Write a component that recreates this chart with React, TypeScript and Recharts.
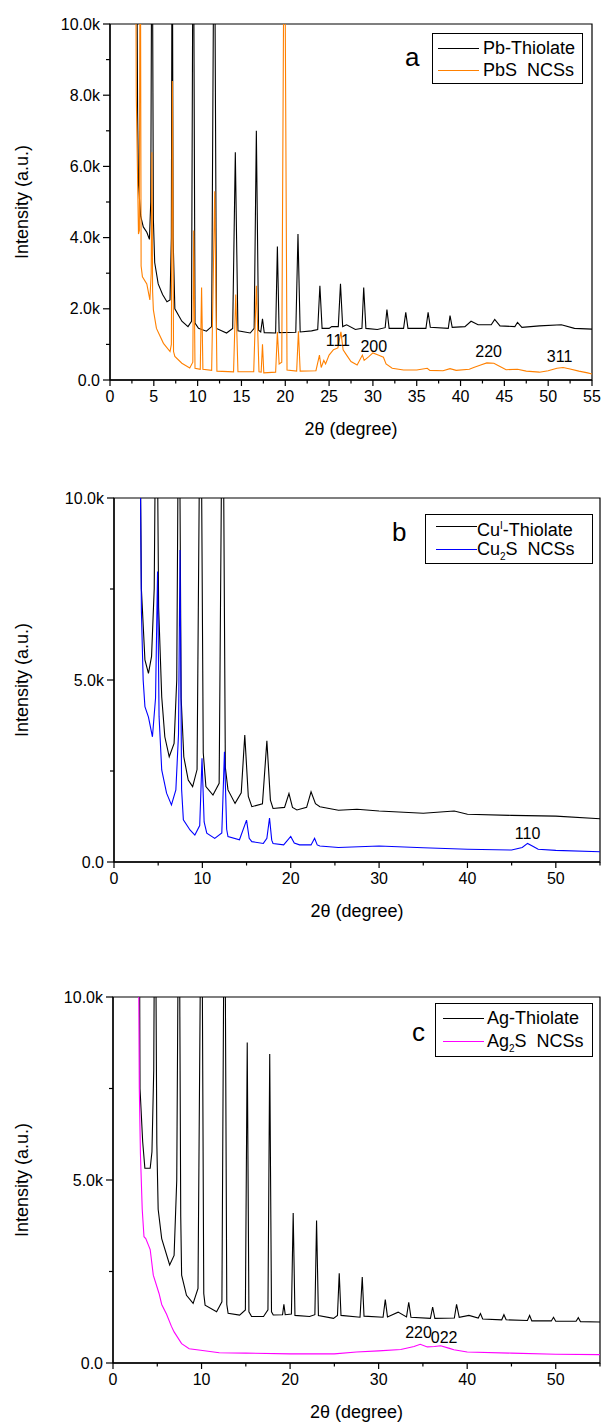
import React from 'react';
import { LineChart, Line, XAxis, YAxis, ReferenceArea, ReferenceDot } from 'recharts';

const FONT = "'Liberation Sans', Arial, Helvetica, sans-serif";

// tick values
const xTicksA = [0, 2.5, 5, 7.5, 10, 12.5, 15, 17.5, 20, 22.5, 25, 27.5, 30, 32.5, 35, 37.5, 40, 42.5, 45, 47.5, 50, 52.5, 55];
const xMajorA = [0, 5, 10, 15, 20, 25, 30, 35, 40, 45, 50, 55];
const yTicksA = [0, 1000, 2000, 3000, 4000, 5000, 6000, 7000, 8000, 9000, 10000];
const yMajorA = [0, 2000, 4000, 6000, 8000, 10000];
const xTicksBC = [0, 5, 10, 15, 20, 25, 30, 35, 40, 45, 50, 55];
const xMajorBC = [0, 10, 20, 30, 40, 50];
const yTicksBC = [0, 2500, 5000, 7500, 10000];
const yMajorBC = [0, 5000, 10000];

// panel a: [2theta, intensity]
const pbThiolate: [number, number][] = [
  [3.0, 15000], [3.15, 7500], [3.25, 5500], [3.5, 4600], [3.8, 4300], [4.2, 4150], [4.5, 3950], [4.65, 5000],
  [4.8, 15000], [4.95, 4500], [5.1, 3300], [5.5, 2700], [6.0, 2400], [6.5, 2200], [6.85, 2250], [7.0, 4000],
  [7.1, 15000], [7.2, 4000], [7.4, 2000], [8.2, 1650], [8.9, 1500], [9.3, 1650], [9.5, 15000], [9.7, 1600],
  [10.1, 1450], [11.0, 1370], [11.6, 1500], [11.9, 15000], [12.15, 1450], [13.3, 1320], [14.0, 1450],
  [14.3, 6400], [14.6, 1380], [16.0, 1320], [16.45, 1450], [16.7, 7000], [16.95, 1400], [17.2, 1350],
  [17.4, 1720], [17.6, 1330], [18.9, 1320], [19.1, 3750], [19.3, 1330], [21.2, 1340], [21.45, 4100],
  [21.7, 1350], [23.0, 1380], [23.7, 1420], [23.95, 2650], [24.2, 1450], [25.0, 1450], [25.3, 1500],
  [26.05, 1500], [26.3, 2700], [26.55, 1500], [27.0, 1550], [28.0, 1420], [28.75, 1450], [28.95, 2600],
  [29.2, 1450], [30.5, 1420], [31.4, 1470], [31.6, 1980], [31.85, 1450], [33.5, 1450], [33.75, 1900],
  [34.0, 1450], [36.05, 1450], [36.3, 1900], [36.55, 1480], [38.6, 1450], [38.8, 1810], [39.05, 1480],
  [40.5, 1500], [41.2, 1650], [42.0, 1550], [43.5, 1550], [43.9, 1700], [44.5, 1520], [46.2, 1500],
  [46.5, 1620], [47.0, 1480], [49.0, 1520], [51.5, 1550], [53.0, 1450], [55.0, 1430],
];
const pbsNcs: [number, number][] = [
  [2.9, 15000], [3.0, 8000], [3.1, 6400], [3.25, 4100], [3.35, 4200], [3.45, 15000], [3.55, 3200],
  [3.7, 2900], [4.2, 2700], [4.55, 2250], [4.7, 3000], [4.78, 6400], [4.86, 2500], [4.95, 1970],
  [5.3, 1450], [6.1, 1030], [6.85, 800], [7.0, 1000], [7.12, 8400], [7.25, 800], [7.4, 660], [8.2, 470],
  [9.1, 340], [9.45, 500], [9.55, 4200], [9.7, 330], [10.3, 300], [10.45, 2600], [10.6, 300], [11.6, 270],
  [11.95, 5300], [12.2, 250], [14.1, 230], [14.35, 2400], [14.6, 230], [16.4, 230], [16.7, 2650],
  [17.0, 230], [17.25, 220], [17.4, 1000], [17.55, 200], [18.9, 220], [19.1, 1350], [19.3, 450],
  [19.6, 500], [19.9, 15000], [20.2, 280], [21.3, 250], [21.5, 1370], [21.7, 250], [23.5, 260],
  [23.9, 700], [24.1, 350], [24.4, 550], [24.6, 450], [25.0, 700], [25.5, 850], [26.0, 900], [26.35, 1350],
  [26.6, 850], [27.0, 700], [27.5, 520], [28.2, 420], [28.8, 700], [29.0, 550], [29.5, 650], [30.0, 760],
  [30.6, 700], [31.2, 640], [31.5, 450], [32.2, 330], [33.5, 280], [35.0, 280], [36.2, 330], [36.5, 270],
  [38.0, 260], [38.8, 320], [39.5, 270], [41.0, 300], [41.5, 350], [42.3, 420], [43.0, 480], [43.8, 470],
  [44.5, 380], [45.2, 290], [46.5, 300], [47.5, 250], [49.0, 220], [50.0, 260], [51.0, 330], [51.7, 350],
  [52.5, 310], [53.5, 250], [54.5, 200], [55.0, 170],
];
const notesA: [string, number, number][] = [['111', 26.0, 1110], ['200', 30.1, 960], ['220', 43.2, 800], ['311', 51.3, 660]];

// panel b
const cuThiolate: [number, number][] = [
  [2.85, 15000], [3.1, 7500], [3.5, 5550], [3.9, 5180], [4.25, 5650], [4.55, 7500], [4.8, 15000],
  [5.05, 7000], [5.4, 4540], [5.75, 3440], [6.25, 2890], [6.8, 3260], [7.1, 5000], [7.35, 15000],
  [7.6, 4500], [7.9, 2890], [8.4, 2250], [8.9, 2070], [9.4, 2540], [9.8, 15000], [10.1, 3000],
  [10.4, 2070], [11.2, 1840], [11.9, 2160], [12.3, 15000], [12.6, 2600], [12.9, 1980], [13.7, 1610],
  [14.4, 1900], [14.8, 3490], [15.2, 1800], [15.6, 1520], [16.8, 1600], [17.3, 3330], [17.7, 1700],
  [18.0, 1470], [19.3, 1500], [19.8, 1880], [20.2, 1500], [20.7, 1430], [21.8, 1500], [22.3, 1930],
  [22.8, 1600], [23.3, 1520], [25.4, 1420], [27.5, 1450], [30.0, 1400], [35.0, 1340], [38.5, 1400],
  [40.0, 1310], [45.0, 1280], [50.0, 1260], [55.0, 1190],
];
const cu2sNcs: [number, number][] = [
  [2.85, 15000], [3.1, 6900], [3.3, 5000], [3.5, 4270], [3.9, 3980], [4.35, 3440], [4.7, 4500],
  [4.93, 7980], [5.1, 4000], [5.4, 2530], [5.95, 1890], [6.5, 1570], [7.0, 1980], [7.3, 3500],
  [7.47, 8570], [7.65, 2000], [7.85, 1160], [8.6, 880], [9.15, 740], [9.7, 1000], [9.96, 2850],
  [10.2, 1100], [10.5, 790], [11.4, 650], [12.2, 800], [12.5, 3030], [12.75, 900], [12.9, 700],
  [14.2, 610], [15.0, 1150], [15.3, 650], [15.6, 560], [16.9, 510], [17.3, 650], [17.6, 1210],
  [17.85, 600], [18.0, 510], [19.2, 470], [20.0, 700], [20.4, 520], [21.0, 470], [22.3, 470], [22.7, 650],
  [23.0, 470], [23.3, 440], [25.4, 400], [30.0, 440], [35.0, 390], [40.0, 350], [45.0, 330], [46.2, 400],
  [46.8, 510], [47.5, 420], [48.0, 350], [50.0, 320], [55.0, 280],
];
const notesB: [string, number, number][] = [['110', 46.8, 800]];

// panel c
const agThiolate: [number, number][] = [
  [2.95, 15000], [3.05, 7500], [3.35, 6050], [3.6, 5320], [4.2, 5320], [4.4, 5770], [4.6, 8000],
  [4.75, 15000], [4.95, 6000], [5.1, 4200], [5.5, 3400], [6.4, 2680], [6.9, 2940], [7.2, 5000],
  [7.45, 15000], [7.65, 4000], [7.75, 2400], [8.3, 1850], [9.05, 1630], [9.6, 2040], [10.0, 15000],
  [10.25, 1900], [10.4, 1580], [11.7, 1400], [12.3, 1670], [12.6, 15000], [12.85, 1600], [13.0, 1360],
  [14.3, 1310], [14.95, 1450], [15.16, 8760], [15.35, 1400], [15.65, 1270], [17.0, 1270], [17.5, 1450],
  [17.7, 8440], [17.9, 1400], [18.1, 1310], [19.15, 1320], [19.3, 1600], [19.45, 1320], [20.15, 1340],
  [20.35, 4100], [20.55, 1300], [22.2, 1270], [22.8, 1320], [22.99, 3890], [23.2, 1300], [24.9, 1220],
  [25.35, 1300], [25.55, 2450], [25.75, 1300], [27.9, 1250], [28.15, 2350], [28.35, 1280], [30.5, 1250],
  [30.75, 1730], [31.0, 1260], [32.2, 1390], [33.15, 1260], [33.4, 1660], [33.65, 1250], [35.85, 1220],
  [36.1, 1530], [36.35, 1220], [38.55, 1230], [38.8, 1600], [39.1, 1250], [40.2, 1300], [41.25, 1230],
  [41.5, 1350], [41.75, 1200], [43.9, 1180], [44.15, 1320], [44.4, 1180], [46.8, 1160], [47.05, 1300],
  [47.3, 1150], [49.5, 1150], [49.75, 1250], [50.0, 1140], [52.3, 1140], [52.55, 1240], [52.8, 1130],
  [55.0, 1120],
];
const ag2sNcs: [number, number][] = [
  [2.8, 15000], [2.97, 7500], [3.1, 5700], [3.3, 4200], [3.5, 3450], [3.7, 3400], [4.0, 3220], [4.2, 3100],
  [4.55, 2400], [5.2, 1900], [5.5, 1600], [6.05, 1330], [6.6, 1000], [6.9, 850], [7.75, 530], [8.6, 390],
  [9.9, 350], [12.0, 280], [15.0, 270], [20.0, 250], [25.0, 250], [27.5, 300], [30.0, 330], [32.5, 370],
  [34.0, 450], [34.7, 510], [35.5, 440], [36.3, 450], [37.0, 470], [38.0, 400], [38.5, 360], [40.0, 300],
  [45.0, 270], [50.0, 240], [55.0, 230],
];
const notesC: [string, number, number][] = [['220', 34.5, 830], ['022', 37.4, 710]];

const toRows = (pts: [number, number][]) => pts.map(([x, y]) => ({ x, y }));
const fmtY = (v: number) => (v === 0 ? '0.0' : (v / 1000).toFixed(1) + 'k');

const makeXTick = (major: number[]) => (props: any) => {
  const { x, y, payload } = props;
  const isMajor = major.includes(payload.value);
  return (
    <g>
      <line x1={x} y1={y} x2={x} y2={y + (isMajor ? 6 : 3.5)} stroke="#000" strokeWidth={1.2} />
      {isMajor && (
        <text x={x} y={y + 22} textAnchor="middle" fontSize={16} fontFamily={FONT} fill="#000">
          {payload.value}
        </text>
      )}
    </g>
  );
};

const makeYTick = (major: number[]) => (props: any) => {
  const { x, y, payload } = props;
  const isMajor = major.includes(payload.value);
  return (
    <g>
      <line x1={x - (isMajor ? 7 : 4)} y1={y} x2={x} y2={y} stroke="#000" strokeWidth={1.2} />
      {isMajor && (
        <text x={x - 10} y={y + 5.5} textAnchor="end" fontSize={16} fontFamily={FONT} fill="#000">
          {fmtY(payload.value)}
        </text>
      )}
    </g>
  );
};

interface LegendItem {
  color: string;
  label: React.ReactNode;
}

interface PanelProps {
  top: number;
  height: number;
  yWidth: number;
  right: number;
  xHeight: number;
  xTicks: number[];
  xMajor: number[];
  yTicks: number[];
  yMajor: number[];
  black: [number, number][];
  colored: [number, number][];
  color: string;
  notes: [string, number, number][];
  letter: string;
  letterPos: { left: number; top: number };
  box: { left: number; top: number; width: number; height: number; rows: number[]; lineX: number; textX: number };
  items: LegendItem[];
}

function Panel(p: PanelProps) {
  const plotLeft = p.yWidth;
  const plotRight = 604 - p.right;
  const plotTop = 24;
  const plotBottom = p.height - p.xHeight;
  return (
    <div style={{ position: 'absolute', left: 0, top: p.top, width: 604, height: p.height }}>
      <LineChart width={604} height={p.height} margin={{ top: plotTop, right: p.right, bottom: 0, left: 0 }}>
        <XAxis
          dataKey="x"
          type="number"
          domain={[0, 55]}
          ticks={p.xTicks}
          interval={0}
          allowDataOverflow
          height={p.xHeight}
          tickSize={0}
          tickMargin={0}
          tickLine={false}
          tick={makeXTick(p.xMajor)}
          axisLine={{ stroke: '#000', strokeWidth: 1.3 }}
          label={() => (
            <text x={(plotLeft + plotRight) / 2} y={plotBottom + 55} textAnchor="middle" fontSize={18} fontFamily={FONT} fill="#000">
              2θ (degree)
            </text>
          )}
        />
        <YAxis
          dataKey="y"
          type="number"
          domain={[0, 10000]}
          ticks={p.yTicks}
          interval={0}
          allowDataOverflow
          width={p.yWidth}
          tickSize={0}
          tickMargin={0}
          tickLine={false}
          tick={makeYTick(p.yMajor)}
          axisLine={{ stroke: '#000', strokeWidth: 1.3 }}
          label={() => (
            <text
              x={22}
              y={(plotTop + plotBottom) / 2}
              transform={`rotate(-90 22 ${(plotTop + plotBottom) / 2})`}
              textAnchor="middle"
              dominantBaseline="central"
              fontSize={18}
              fontFamily={FONT}
              fill="#000"
            >
              Intensity (a.u.)
            </text>
          )}
        />
        <ReferenceArea x1={0} x2={55} y1={0} y2={10000} fill="none" stroke="#000" strokeWidth={1.2} />
        <Line data={toRows(p.black)} dataKey="y" stroke="#000" strokeWidth={1.1} dot={false} isAnimationActive={false} />
        <Line data={toRows(p.colored)} dataKey="y" stroke={p.color} strokeWidth={1.1} dot={false} isAnimationActive={false} />
        {p.notes.map(([t, x, y]) => (
          <ReferenceDot
            key={t + x}
            x={x}
            y={y}
            r={0}
            fill="none"
            stroke="none"
            label={{ value: t, position: 'center', fontSize: 16, fill: '#000', fontFamily: FONT }}
          />
        ))}
      </LineChart>
      {/* legend box and panel letter */}
      <div style={{ position: 'absolute', left: p.letterPos.left, top: p.letterPos.top, fontSize: 26, lineHeight: '26px', fontFamily: FONT }}>
        {p.letter}
      </div>
      <div
        style={{
          position: 'absolute',
          left: p.box.left,
          top: p.box.top,
          width: p.box.width,
          height: p.box.height,
          border: '1px solid #000',
          boxSizing: 'border-box',
          background: '#fff',
          fontFamily: FONT,
        }}
      >
        {p.items.map((it, i) => (
          <div key={i} style={{ position: 'absolute', left: 0, top: p.box.rows[i] - 11, height: 22, width: '100%' }}>
            <div style={{ position: 'absolute', left: p.box.lineX, width: 41, top: 11, borderTop: `1px solid ${it.color}` }} />
            <div style={{ position: 'absolute', left: p.box.textX, top: 0, fontSize: 18, lineHeight: '22px', whiteSpace: 'pre' }}>
              {it.label}
            </div>
          </div>
        ))}
      </div>
    </div>
  );
}

export default function App() {
  return (
    <div style={{ position: 'absolute', left: 0, top: 0, width: 604, height: 1427, background: '#fff', overflow: 'hidden' }}>
      <Panel
        top={0}
        height={440}
        yWidth={110}
        right={12}
        xHeight={60}
        xTicks={xTicksA}
        xMajor={xMajorA}
        yTicks={yTicksA}
        yMajor={yMajorA}
        black={pbThiolate}
        colored={pbsNcs}
        color="#FF8000"
        notes={notesA}
        letter="a"
        letterPos={{ left: 405, top: 44 }}
        box={{ left: 432, top: 33, width: 151, height: 51, rows: [14, 36], lineX: 5, textX: 50 }}
        items={[
          { color: '#000', label: 'Pb-Thiolate' },
          { color: '#FF8000', label: 'PbS  NCSs' },
        ]}
      />
      <Panel
        top={474}
        height={448}
        yWidth={114}
        right={4}
        xHeight={60}
        xTicks={xTicksBC}
        xMajor={xMajorBC}
        yTicks={yTicksBC}
        yMajor={yMajorBC}
        black={cuThiolate}
        colored={cu2sNcs}
        color="#0000FF"
        notes={notesB}
        letter="b"
        letterPos={{ left: 392, top: 45 }}
        box={{ left: 425, top: 40, width: 168, height: 50, rows: [11, 34], lineX: 10, textX: 51 }}
        items={[
          { color: '#000', label: <span>Cu<sup style={{ fontSize: 10 }}>I</sup>-Thiolate</span> },
          { color: '#0000FF', label: <span>Cu<sub style={{ fontSize: 10 }}>2</sub>S  NCSs</span> },
        ]}
      />
      <Panel
        top={973}
        height={454}
        yWidth={113}
        right={4}
        xHeight={64}
        xTicks={xTicksBC}
        xMajor={xMajorBC}
        yTicks={yTicksBC}
        yMajor={yMajorBC}
        black={agThiolate}
        colored={ag2sNcs}
        color="#FF00FF"
        notes={notesC}
        letter="c"
        letterPos={{ left: 412, top: 46 }}
        box={{ left: 435, top: 30, width: 158, height: 54, rows: [14, 37], lineX: 7, textX: 51 }}
        items={[
          { color: '#000', label: 'Ag-Thiolate' },
          { color: '#FF00FF', label: <span>Ag<sub style={{ fontSize: 10 }}>2</sub>S  NCSs</span> },
        ]}
      />
    </div>
  );
}
